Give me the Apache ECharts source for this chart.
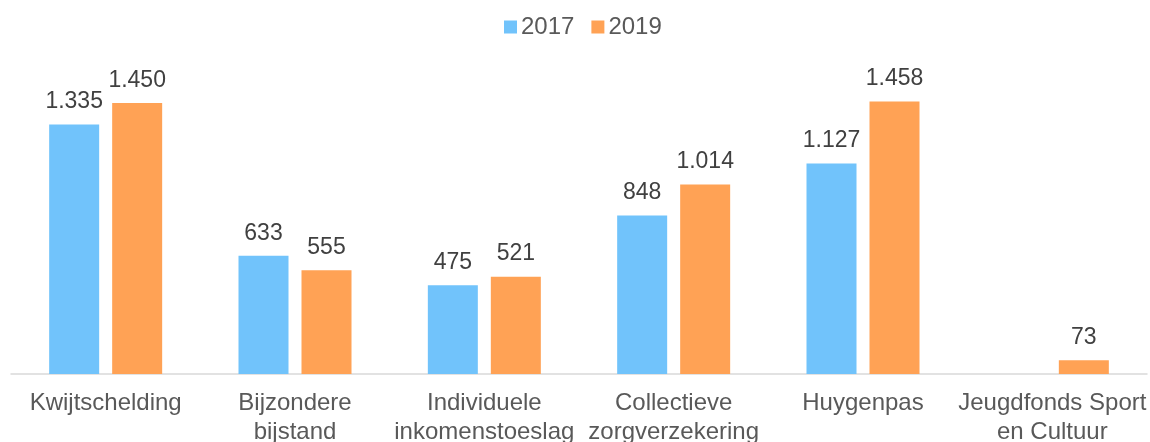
<!DOCTYPE html>
<html>
<head>
<meta charset="utf-8">
<script src="https://cdn.jsdelivr.net/npm/echarts@6/dist/echarts.min.js"></script>
<style>html,body{margin:0;padding:0;background:#fff}#c{width:1150px;height:442px}</style>
</head>
<body>
<div id="c"></div>
<script>
const categories = ['Kwijtschelding', 'Bijzondere\nbijstand', 'Individuele\ninkomenstoeslag', 'Collectieve\nzorgverzekering', 'Huygenpas', 'Jeugdfonds Sport\nen Cultuur'];
const values2017 = [1335, 633, 475, 848, 1127, null];
const values2019 = [1450, 555, 521, 1014, 1458, 73];
const seriesNames = ['2017', '2019'];

function fmt(v) {
  return String(v).replace(/\B(?=(\d{3})+(?!\d))/g, '.');
}
const font = 'Liberation Sans, Arial, sans-serif';
const chart = echarts.init(document.getElementById('c'));
const labelCfg = {
  show: true, position: 'top', distance: 11,
  fontFamily: font, fontSize: 23, color: '#404040',
  formatter: p => fmt(p.value)
};
chart.setOption({
  animation: false,
  legend: {
    top: 10, left: 499, itemWidth: 13, itemHeight: 13, itemGap: 17,
    icon: 'rect',
    textStyle: { fontFamily: font, fontSize: 24, color: '#595959', padding: [0, 0, 0, -1] }
  },
  grid: { left: 11, right: 3, top: 75, bottom: 68, containLabel: false, outerBoundsMode: 'none' },
  xAxis: {
    type: 'category', data: categories,
    axisLine: { lineStyle: { color: '#d9d9d9', width: 1.5 } },
    axisTick: { show: false },
    axisLabel: { interval: 0, fontFamily: font, fontSize: 24, lineHeight: 29, color: '#595959', margin: 15 }
  },
  yAxis: { type: 'value', min: 0, max: 1600, show: false, splitLine: { show: false } },
  series: [
    { name: seriesNames[0], type: 'bar', data: values2017, barWidth: 50, barGap: '26%', itemStyle: { color: '#71C3FB' }, label: labelCfg },
    { name: seriesNames[1], type: 'bar', data: values2019, barWidth: 50, itemStyle: { color: '#FFA255' }, label: labelCfg }
  ]
});
</script>
</body>
</html>
